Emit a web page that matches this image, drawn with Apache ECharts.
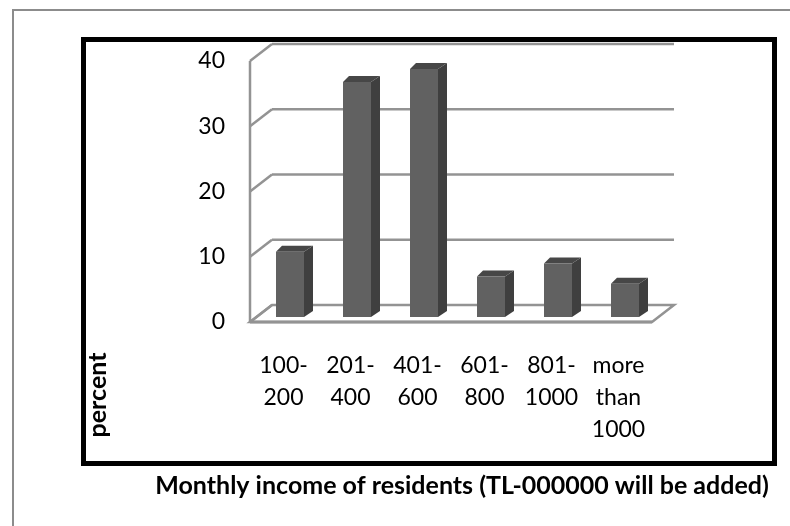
<!DOCTYPE html>
<html>
<head>
<meta charset="utf-8">
<script src="https://cdn.jsdelivr.net/npm/echarts@6/dist/echarts.min.js"></script>
<style>
  html, body { margin: 0; padding: 0; background: #fff; }
  #chart { width: 790px; height: 526px; }
</style>
</head>
<body>
<div id="chart"></div>
<script>
// Income brackets (thousand TL) and share of residents in each, percent
const categories = ['100-\n200', '201-\n400', '401-\n600', '601-\n800', '801-\n1000', 'more\nthan\n1000'];
const percentValues = [10, 36, 38, 6.2, 8.2, 5.1];
const yTicks = [0, 10, 20, 30, 40];

const xTitle = 'Monthly income of residents (TL-000000 will be added)';
const yTitle = 'percent';

// 3D look: wall depth vector and bar depth
const WALL_DX = 22, WALL_DY = -17;
const BAR_SHIFT_X = 6.5, BAR_SHIFT_Y = -5;
const BAR_W = 28, BAR_DX_L = 6, BAR_DX_R = 9, BAR_DY = -6;
const WALL_COLOR = '#939393';

const chart = echarts.init(document.getElementById('chart'), null, { renderer: 'canvas' });

function renderWalls(params, api) {
  const v = api.value(0);
  const cw = api.size([1, 0])[0];
  const p0 = api.coord([0, v]);
  const p5 = api.coord([categories.length - 1, v]);
  const L = p0[0] - cw / 2, R = p5[0] + cw / 2, y = p0[1];
  const lineStyle = { stroke: WALL_COLOR, lineWidth: 2.5, fill: null };
  const children = [];
  if (v === 0) {
    children.push({
      type: 'polygon',
      shape: { points: [[L, y], [R, y], [R + WALL_DX, y + WALL_DY], [L + WALL_DX, y + WALL_DY]] },
      style: { fill: '#fff', stroke: WALL_COLOR, lineWidth: 2.5 }
    });
    children.push({ type: 'line', shape: { x1: L, y1: y, x2: R, y2: y }, style: { stroke: WALL_COLOR, lineWidth: 3 } });
    const top = api.coord([0, yTicks[yTicks.length - 1]])[1];
    children.push({ type: 'line', shape: { x1: L, y1: y, x2: L, y2: top }, style: lineStyle });
  } else {
    children.push({ type: 'line', shape: { x1: L + WALL_DX, y1: y + WALL_DY, x2: R + WALL_DX, y2: y + WALL_DY }, style: lineStyle });
  }
  children.push({ type: 'line', shape: { x1: L, y1: y, x2: L + WALL_DX, y2: y + WALL_DY }, style: lineStyle });
  return { type: 'group', children: children };
}

function renderBar(params, api) {
  const idx = api.value(0), v = api.value(1);
  const base = api.coord([idx, 0]);
  const top = api.coord([idx, v]);
  const cx = base[0] + BAR_SHIFT_X;
  const x0 = cx - BAR_W / 2, x1 = cx + BAR_W / 2;
  const yb = base[1] + BAR_SHIFT_Y, yt = top[1] + BAR_SHIFT_Y;
  return {
    type: 'group',
    children: [
      { type: 'polygon', shape: { points: [[x1, yb], [x1 + BAR_DX_R, yb + BAR_DY], [x1 + BAR_DX_R, yt + BAR_DY], [x1, yt]] },
        style: { fill: '#3f3f3f' } },
      { type: 'polygon', shape: { points: [[x0, yt], [x0 + BAR_DX_L, yt + BAR_DY], [x1 + BAR_DX_R, yt + BAR_DY], [x1, yt]] },
        style: { fill: '#474747' } },
      { type: 'rect', shape: { x: x0, y: yt, width: BAR_W, height: yb - yt },
        style: { fill: '#616161' } }
    ]
  };
}

const option = {
  backgroundColor: '#fff',
  animation: false,
  grid: { left: 250, right: 138, top: 61, bottom: 204, containLabel: false },
  xAxis: {
    type: 'category',
    data: categories,
    axisLine: { show: false },
    axisTick: { show: false },
    splitLine: { show: false },
    axisLabel: {
      interval: 0, margin: 28, color: '#000',
      fontFamily: 'Lato', fontSize: 23, lineHeight: 32
    }
  },
  yAxis: {
    type: 'value',
    min: 0, max: 40, interval: 10,
    axisLine: { show: false },
    axisTick: { show: false },
    splitLine: { show: false },
    axisLabel: { margin: 25, color: '#000', fontFamily: 'Lato', fontSize: 23 }
  },
  series: [
    {
      type: 'custom', name: 'walls', clip: false, z: 1, silent: true,
      renderItem: renderWalls,
      encode: { y: 0 },
      data: yTicks.map(t => [t])
    },
    {
      type: 'custom', name: 'percent', clip: false, z: 3,
      renderItem: renderBar,
      encode: { x: 0, y: 1 },
      data: percentValues.map((v, i) => [i, v])
    }
  ],
  graphic: [
    { type: 'rect', z: 0, shape: { x: 13, y: 10, width: 800, height: 540 },
      style: { fill: null, stroke: '#8c8c8c', lineWidth: 2 } },
    { type: 'rect', z: 0, shape: { x: 83.5, y: 39.5, width: 691, height: 424 },
      style: { fill: null, stroke: '#000', lineWidth: 5 } },
    { type: 'text', x: 97.5, y: 395, rotation: Math.PI / 2,
      style: { text: yTitle, font: 'bold 25px Lato', fill: '#000', align: 'center', verticalAlign: 'middle' } },
    { type: 'text', x: 462, y: 486,
      style: { text: xTitle, font: 'bold 25px Lato', fill: '#000', align: 'center', verticalAlign: 'middle' } }
  ]
};

chart.setOption(option);
</script>
</body>
</html>
